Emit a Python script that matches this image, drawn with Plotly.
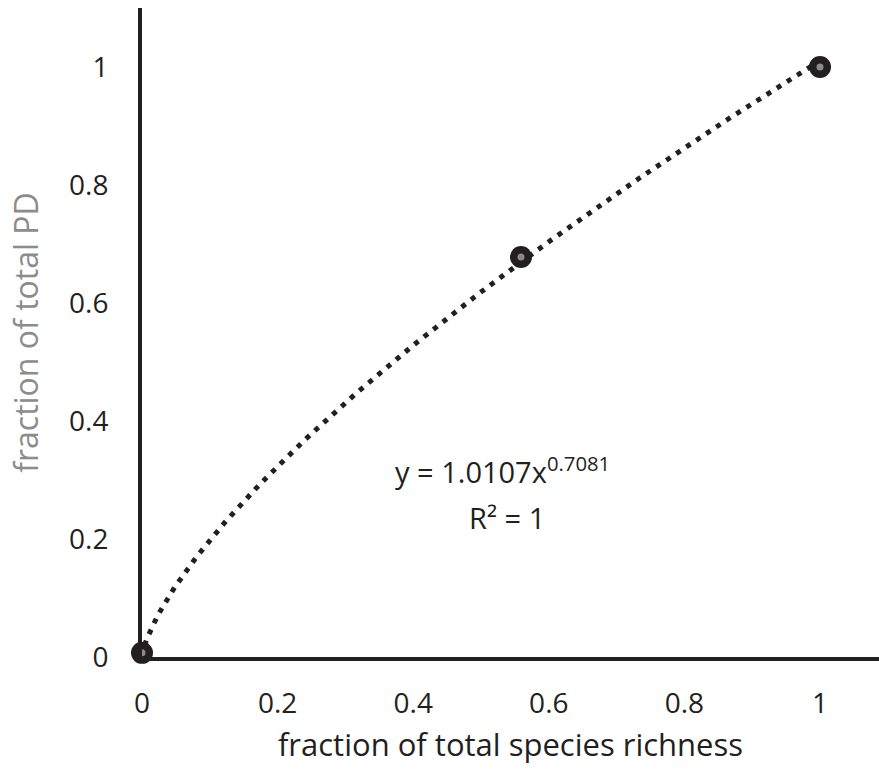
import numpy as np
import plotly.graph_objects as go

# data points
x_pts = [0.0, 0.559, 1.0]
y_pts = [0.007, 0.678, 1.0]

# power trendline coefficients shown in the chart
coef_a = 1.0107
coef_b = 0.7081
r_squared = 1

x_ticks = [0, 0.2, 0.4, 0.6, 0.8, 1]
x_tick_labels = ["0", "0.2", "0.4", "0.6", "0.8", "1"]
y_ticks = [0, 0.2, 0.4, 0.6, 0.8, 1]
y_tick_labels = ["0", "0.2", "0.4", "0.6", "0.8", "1"]

x_fit = np.linspace(0, 1, 400)
y_fit = coef_a * x_fit ** coef_b

DARK = "#231f20"
FONT = "Open Sans"

fig = go.Figure()
fig.add_trace(go.Scatter(
    x=x_fit, y=y_fit, mode="lines",
    line=dict(color=DARK, width=5, dash="5px,7px"),
    hoverinfo="skip", cliponaxis=False,
))
fig.add_trace(go.Scatter(
    x=x_pts, y=y_pts, mode="markers",
    marker=dict(size=22, color=DARK),
    cliponaxis=False,
))
fig.add_trace(go.Scatter(
    x=x_pts, y=y_pts, mode="markers",
    marker=dict(size=7, color="#8a8a8a"),
    cliponaxis=False, hoverinfo="skip",
))

fig.add_annotation(
    x=0.531, y=0.317, xref="x", yref="y",
    text=f"y = {coef_a}x<sup>{coef_b}</sup>",
    showarrow=False, align="center",
    font=dict(family=FONT, size=29, color=DARK),
)
fig.add_annotation(
    x=0.538, y=0.236, xref="x", yref="y",
    text=f"R² = {r_squared}",
    showarrow=False, align="center",
    font=dict(family=FONT, size=29, color=DARK),
)

fig.update_layout(
    width=879, height=772,
    margin=dict(l=142, r=0, t=8, b=115),
    plot_bgcolor="white", paper_bgcolor="white",
    showlegend=False,
    font=dict(family=FONT, color=DARK),
    xaxis=dict(
        range=[0, 1.087], showgrid=False, zeroline=False,
        showline=True, linecolor=DARK, linewidth=4,
        tickvals=x_ticks, ticktext=x_tick_labels,
        tickfont=dict(family=FONT, size=28, color=DARK),
        ticks="", ticklabelstandoff=18,
        title=dict(text="fraction of total species richness",
                   font=dict(family=FONT, size=31, color=DARK), standoff=16),
    ),
    yaxis=dict(
        range=[0, 1.1], showgrid=False, zeroline=False,
        showline=True, linecolor=DARK, linewidth=4,
        tickvals=y_ticks, ticktext=y_tick_labels,
        tickfont=dict(family=FONT, size=28, color=DARK),
        ticks="", ticklabelstandoff=24,
        title=dict(text="fraction of total PD",
                   font=dict(family=FONT, size=32, color="#8c8c8c"), standoff=22),
    ),
)

fig.write_html("out.html")
